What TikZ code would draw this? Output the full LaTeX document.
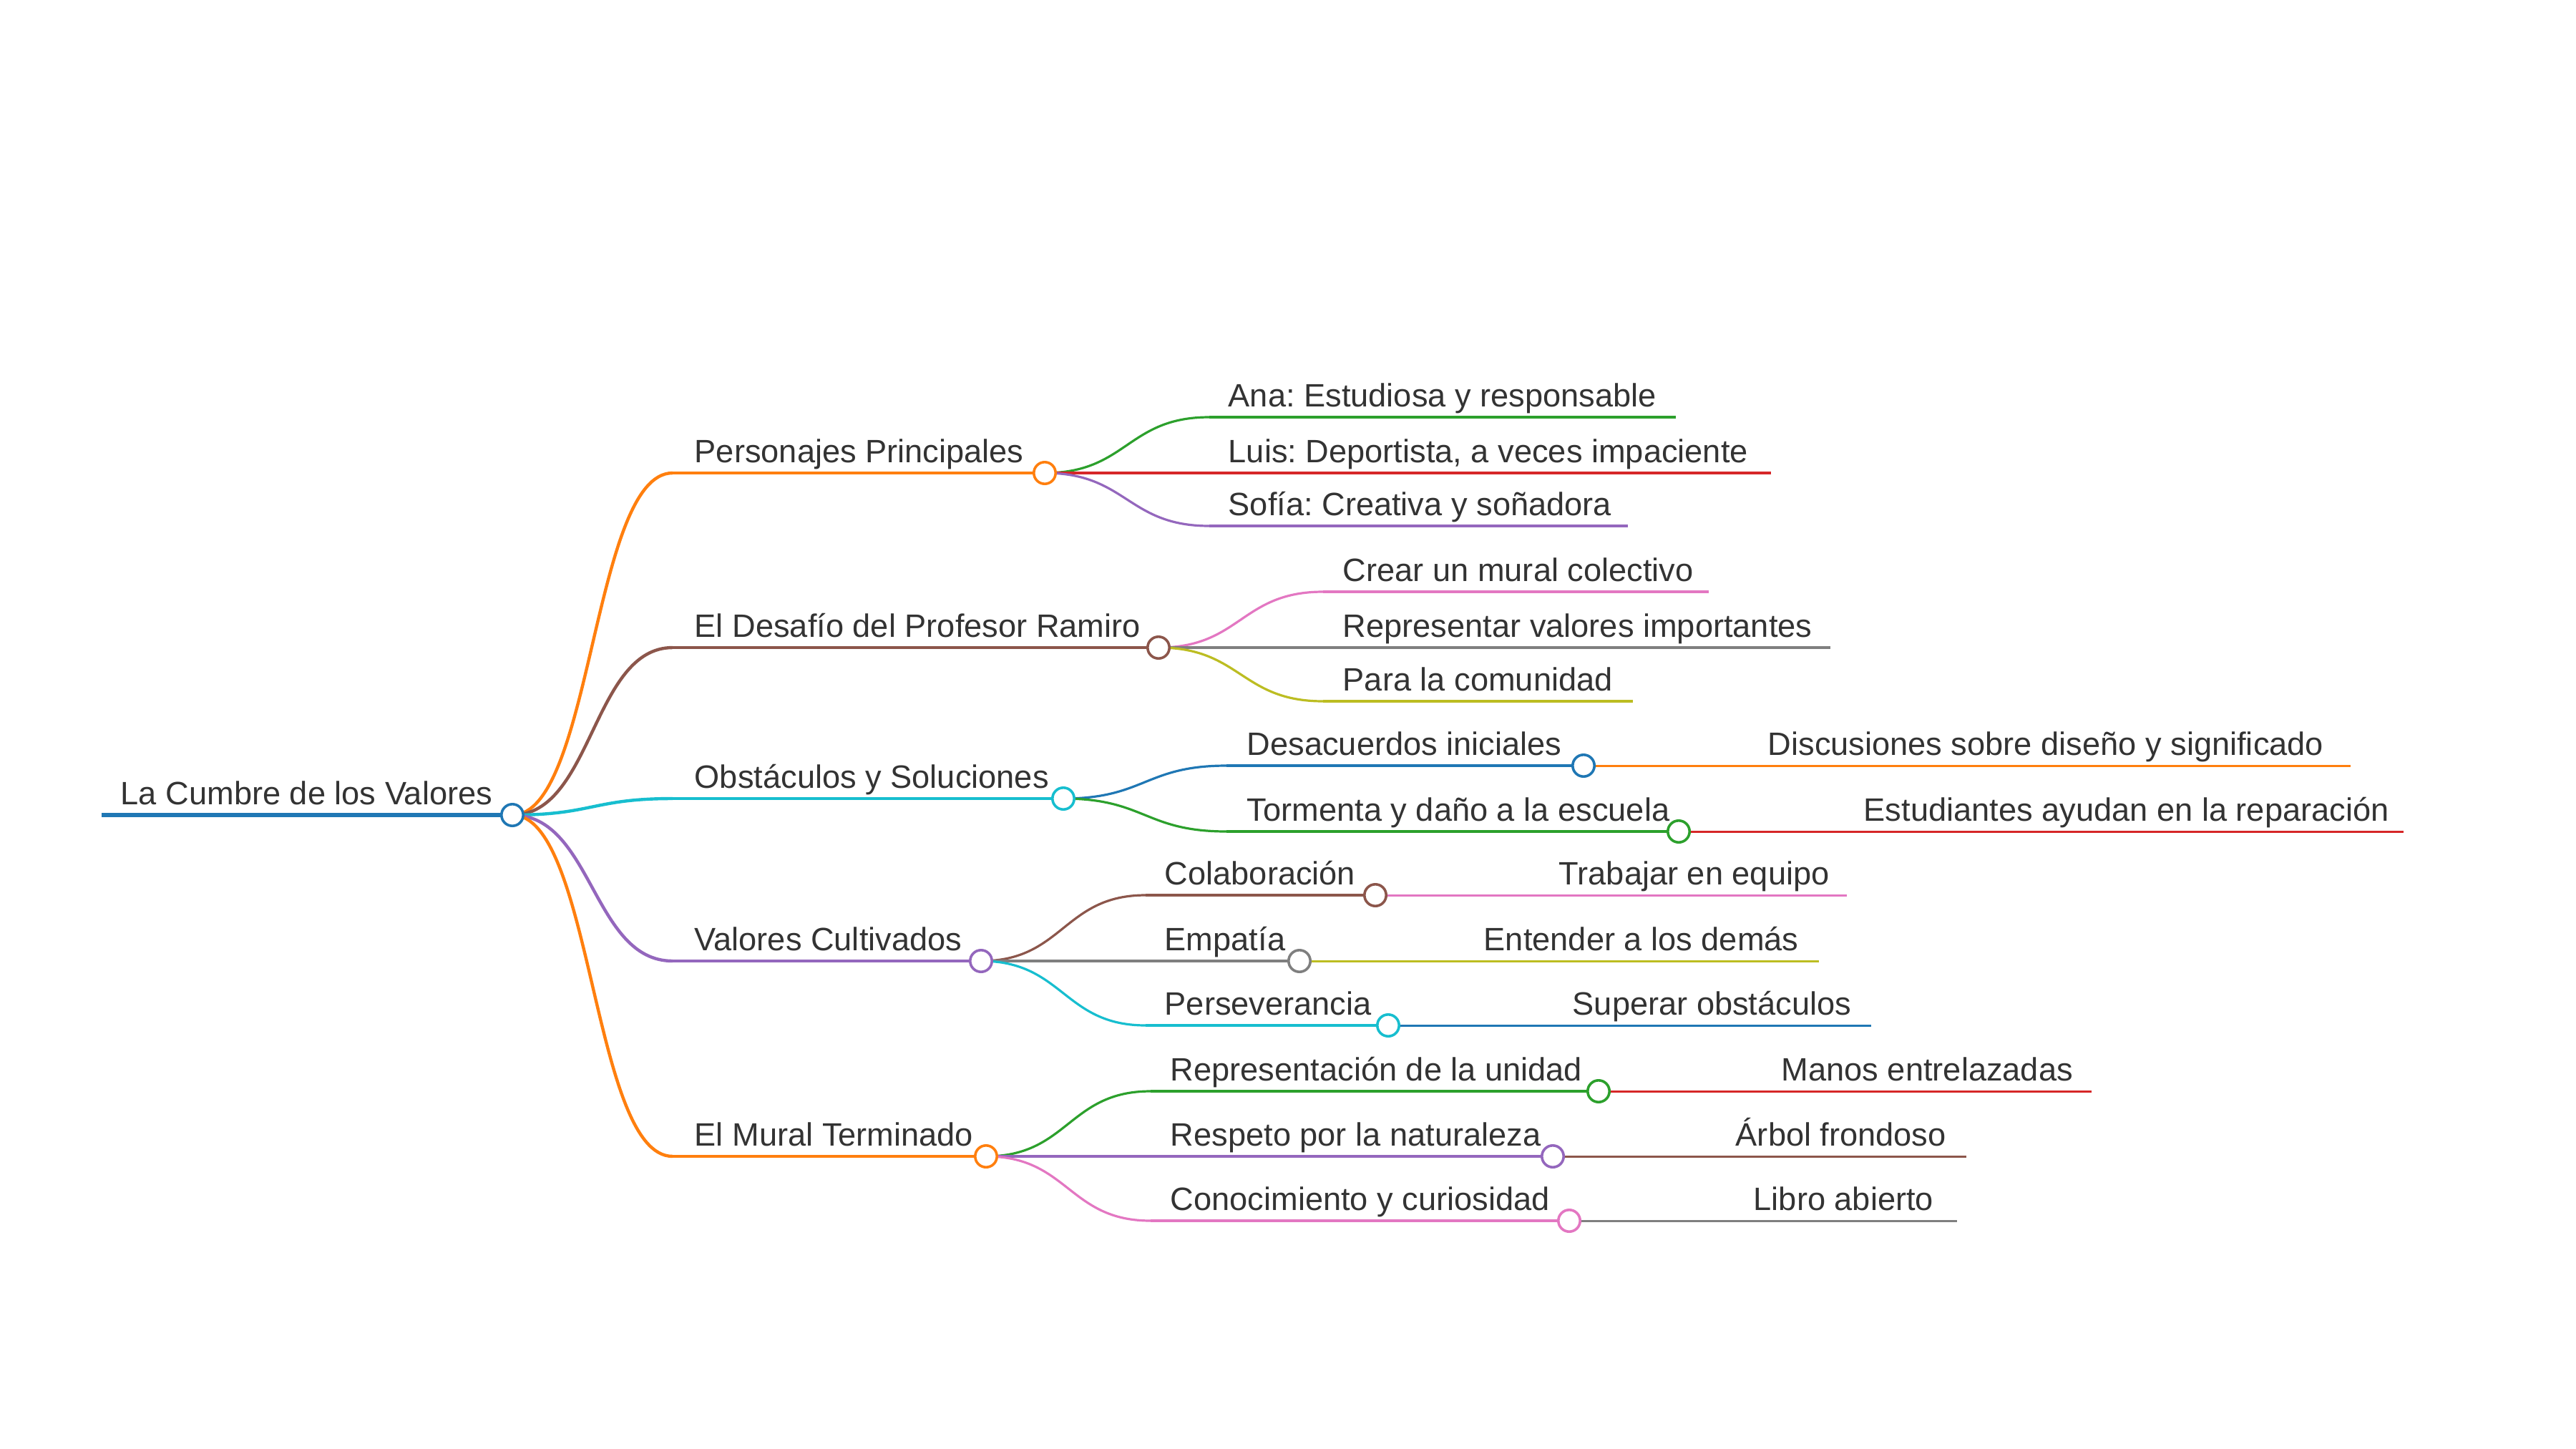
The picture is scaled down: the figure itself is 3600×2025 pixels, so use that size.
\documentclass[tikz,border=0pt]{standalone}
\usepackage{fontspec}
\setmainfont{Liberation Sans}
\usetikzlibrary{calc}
\pgfdeclarelayer{bg}
\pgfsetlayers{bg,main}
\definecolor{cB}{HTML}{1F77B4}
\definecolor{cO}{HTML}{FF7F0E}
\definecolor{cG}{HTML}{2CA02C}
\definecolor{cR}{HTML}{D62728}
\definecolor{cP}{HTML}{9467BD}
\definecolor{cN}{HTML}{8C564B}
\definecolor{cK}{HTML}{E377C2}
\definecolor{cY}{HTML}{7F7F7F}
\definecolor{cL}{HTML}{BCBD22}
\definecolor{cC}{HTML}{17BECF}
\definecolor{txt}{HTML}{333333}
\frenchspacing
\tikzset{
  lbl/.style={anchor=base west, text=txt, inner sep=0pt, font=\fontsize{11.3pt}{13pt}\selectfont},
  dot/.style={circle, draw=#1, fill=white, line width=0.9pt, minimum size=7.6pt, inner sep=0pt},
  w0/.style={line width=1.6pt},
  w1/.style={line width=1.1pt},
  w2/.style={line width=0.8pt},
  w3/.style={line width=0.75pt},
}
\newcommand\mmlink[3]{\draw[#1] let \p1=(#2), \p2=(#3) in (\p1) .. controls ({(\x1+\x2)/2},\y1) and ({(\x1+\x2)/2},\y2) .. (\p2);}
\begin{document}
\begin{tikzpicture}[x=0.25pt,y=-0.25pt]
\useasboundingbox (0,0) rectangle (3600,2025);
% ---- root
\coordinate (rs) at (142,1139);
\node[dot=cB] (r) at (716,1139) {};
\node[lbl] (rt) at (168,1124) {La Cumbre de los Valores};
% ---- level 1
\coordinate (ps) at (940,661);  \node[dot=cO] (p) at (1460,661) {};
\node[lbl] (pt) at (970,646) {Personajes Principales};
\coordinate (ds) at (940,905);  \node[dot=cN] (d) at (1619,905) {};
\node[lbl] (dt) at (970,890) {El Desafío del Profesor Ramiro};
\coordinate (os) at (940,1116); \node[dot=cC] (o) at (1486,1116) {};
\node[lbl] (ot) at (970,1101) {Obstáculos y Soluciones};
\coordinate (vs) at (940,1343); \node[dot=cP] (v) at (1371,1343) {};
\node[lbl] (vt) at (970,1328) {Valores Cultivados};
\coordinate (ms) at (940,1616); \node[dot=cO] (m) at (1378,1616) {};
\node[lbl] (mt) at (970,1601) {El Mural Terminado};
% ---- Personajes
\coordinate (pas) at (1690,583); \coordinate (pae) at (2342,583);
\node[lbl] (pat) at (1716,568) {Ana: Estudiosa y responsable};
\coordinate (pls) at (1690,661); \coordinate (ple) at (2475,661);
\node[lbl] (plt) at (1716,646) {Luis: Deportista, a veces impaciente};
\coordinate (pss) at (1690,735); \coordinate (pse) at (2275,735);
\node[lbl] (pst) at (1716,720) {Sofía: Creativa y soñadora};
% ---- Desafio
\coordinate (dcs) at (1849,827); \coordinate (dce) at (2388,827);
\node[lbl] (dct) at (1876,812) {Crear un mural colectivo};
\coordinate (drs) at (1849,905); \coordinate (dre) at (2558,905);
\node[lbl] (drt) at (1876,890) {Representar valores importantes};
\coordinate (dps) at (1849,980); \coordinate (dpe) at (2282,980);
\node[lbl] (dpt) at (1876,965) {Para la comunidad};
% ---- Obstaculos
\coordinate (ods) at (1714,1070); \node[dot=cB] (od) at (2213,1070) {};
\node[lbl] (odt) at (1742,1055) {Desacuerdos iniciales};
\coordinate (ots) at (1714,1162); \node[dot=cG] (ot2) at (2346,1162) {};
\node[lbl] (ott) at (1742,1147) {Tormenta y daño a la escuela};
\coordinate (odds) at (2443,1070); \coordinate (odde) at (3285,1070);
\node[lbl] (oddt) at (2470,1055) {Discusiones sobre diseño y significado};
\coordinate (otts) at (2576,1162); \coordinate (otte) at (3359,1162);
\node[lbl] (ottt) at (2604,1147) {Estudiantes ayudan en la reparación};
% ---- Valores
\coordinate (vcs) at (1601,1251); \node[dot=cN] (vc) at (1922,1251) {};
\node[lbl] (vct) at (1627,1236) {Colaboración};
\coordinate (ves) at (1601,1343); \node[dot=cY] (ve) at (1816,1343) {};
\node[lbl] (vet) at (1627,1328) {Empatía};
\coordinate (vps) at (1601,1433); \node[dot=cC] (vp) at (1940,1433) {};
\node[lbl] (vpt) at (1627,1418) {Perseverancia};
\coordinate (vccs) at (2152,1251); \coordinate (vcce) at (2581,1251);
\node[lbl] (vcct) at (2178,1236) {Trabajar en equipo};
\coordinate (vees) at (2046,1343); \coordinate (veee) at (2542,1343);
\node[lbl] (veet) at (2073,1328) {Entender a los demás};
\coordinate (vpps) at (2170,1433); \coordinate (vppe) at (2615,1433);
\node[lbl] (vppt) at (2197,1418) {Superar obstáculos};
% ---- Mural
\coordinate (mrs) at (1608,1525); \node[dot=cG] (mr) at (2234,1525) {};
\node[lbl] (mrt) at (1635,1510) {Representación de la unidad};
\coordinate (mns) at (1608,1616); \node[dot=cP] (mn) at (2170,1616) {};
\node[lbl] (mnt) at (1635,1601) {Respeto por la naturaleza};
\coordinate (mcs) at (1608,1706); \node[dot=cK] (mc) at (2193,1706) {};
\node[lbl] (mct) at (1635,1691) {Conocimiento y curiosidad};
\coordinate (mrrs) at (2464,1525); \coordinate (mrre) at (2923,1525);
\node[lbl] (mrrt) at (2489,1510) {Manos entrelazadas};
\coordinate (mnns) at (2400,1616); \coordinate (mnne) at (2748,1616);
\node[lbl] (mnnt) at (2425,1601) {Árbol frondoso};
\coordinate (mccs) at (2423,1706); \coordinate (mcce) at (2735,1706);
\node[lbl] (mcct) at (2450,1691) {Libro abierto};
% ---- connectors
\begin{pgfonlayer}{bg}
\fill[white] (0,0) rectangle (3600,2025);
\draw[w0,cB] (rs) -- (r.center);
\mmlink{w1,cO}{r.center}{ps} \draw[w1,cO] (ps) -- (p.center);
\mmlink{w1,cN}{r.center}{ds} \draw[w1,cN] (ds) -- (d.center);
\mmlink{w1,cC}{r.center}{os} \draw[w1,cC] (os) -- (o.center);
\mmlink{w1,cP}{r.center}{vs} \draw[w1,cP] (vs) -- (v.center);
\mmlink{w1,cO}{r.center}{ms} \draw[w1,cO] (ms) -- (m.center);
\mmlink{w2,cG}{p.center}{pas} \draw[w2,cG] (pas) -- (pae);
\mmlink{w2,cR}{p.center}{pls} \draw[w2,cR] (pls) -- (ple);
\mmlink{w2,cP}{p.center}{pss} \draw[w2,cP] (pss) -- (pse);
\mmlink{w2,cK}{d.center}{dcs} \draw[w2,cK] (dcs) -- (dce);
\mmlink{w2,cY}{d.center}{drs} \draw[w2,cY] (drs) -- (dre);
\mmlink{w2,cL}{d.center}{dps} \draw[w2,cL] (dps) -- (dpe);
\mmlink{w2,cB}{o.center}{ods} \draw[w2,cB] (ods) -- (od.center);
\mmlink{w2,cG}{o.center}{ots} \draw[w2,cG] (ots) -- (ot2.center);
\draw[w3,cO] (od.center) -- (odds) -- (odde);
\draw[w3,cR] (ot2.center) -- (otts) -- (otte);
\mmlink{w2,cN}{v.center}{vcs} \draw[w2,cN] (vcs) -- (vc.center);
\mmlink{w2,cY}{v.center}{ves} \draw[w2,cY] (ves) -- (ve.center);
\mmlink{w2,cC}{v.center}{vps} \draw[w2,cC] (vps) -- (vp.center);
\draw[w3,cK] (vc.center) -- (vccs) -- (vcce);
\draw[w3,cL] (ve.center) -- (vees) -- (veee);
\draw[w3,cB] (vp.center) -- (vpps) -- (vppe);
\mmlink{w2,cG}{m.center}{mrs} \draw[w2,cG] (mrs) -- (mr.center);
\mmlink{w2,cP}{m.center}{mns} \draw[w2,cP] (mns) -- (mn.center);
\mmlink{w2,cK}{m.center}{mcs} \draw[w2,cK] (mcs) -- (mc.center);
\draw[w3,cR] (mr.center) -- (mrrs) -- (mrre);
\draw[w3,cN] (mn.center) -- (mnns) -- (mnne);
\draw[w3,cY] (mc.center) -- (mccs) -- (mcce);
\end{pgfonlayer}
\end{tikzpicture}
\end{document}
